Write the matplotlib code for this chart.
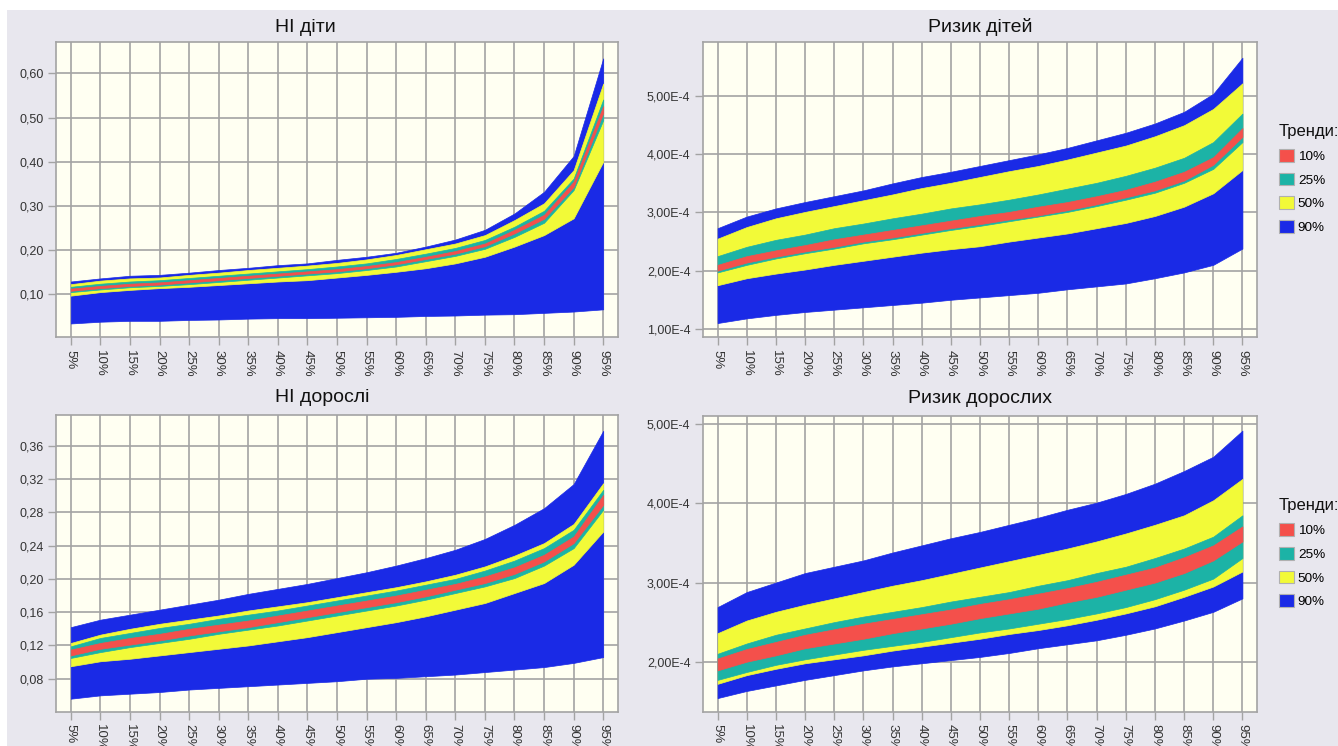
import numpy as np
import matplotlib
matplotlib.use('Agg')
import matplotlib.pyplot as plt
from matplotlib.patches import Patch, Rectangle
from matplotlib.ticker import FuncFormatter

plt.rcParams['font.family'] = ['Liberation Sans', 'DejaVu Sans']

percentiles = ['5%', '10%', '15%', '20%', '25%', '30%', '35%', '40%', '45%', '50%',
               '55%', '60%', '65%', '70%', '75%', '80%', '85%', '90%', '95%']
trend_labels = ['10%', '25%', '50%', '90%']

# ---- НІ діти ----
hc_blue_lo = [0.034, 0.038, 0.040, 0.040, 0.042, 0.043, 0.045, 0.046, 0.046, 0.047,
              0.048, 0.049, 0.051, 0.052, 0.054, 0.055, 0.058, 0.061, 0.066]
hc_yel_lo = [0.097, 0.105, 0.110, 0.114, 0.117, 0.121, 0.125, 0.129, 0.132, 0.138,
             0.144, 0.151, 0.159, 0.170, 0.185, 0.208, 0.234, 0.272, 0.400]
hc_teal_lo = [0.105, 0.111, 0.116, 0.119, 0.123, 0.128, 0.133, 0.138, 0.143, 0.148,
              0.155, 0.163, 0.175, 0.187, 0.203, 0.230, 0.262, 0.336, 0.494]
hc_red_lo = [0.108, 0.114, 0.119, 0.122, 0.127, 0.132, 0.137, 0.142, 0.147, 0.152,
             0.159, 0.168, 0.180, 0.192, 0.209, 0.238, 0.271, 0.343, 0.510]
hc_red_hi = [0.113, 0.119, 0.124, 0.127, 0.132, 0.137, 0.142, 0.147, 0.152, 0.157,
             0.164, 0.173, 0.185, 0.198, 0.215, 0.246, 0.280, 0.355, 0.526]
hc_teal_hi = [0.117, 0.124, 0.129, 0.132, 0.137, 0.142, 0.147, 0.152, 0.157, 0.163,
              0.170, 0.180, 0.192, 0.205, 0.223, 0.253, 0.289, 0.362, 0.541]
hc_yel_hi = [0.123, 0.131, 0.136, 0.138, 0.144, 0.149, 0.155, 0.160, 0.165, 0.171,
             0.179, 0.189, 0.202, 0.215, 0.234, 0.268, 0.306, 0.381, 0.577]
hc_blue_hi = [0.129, 0.136, 0.142, 0.144, 0.149, 0.155, 0.160, 0.166, 0.170, 0.178,
              0.185, 0.194, 0.208, 0.224, 0.246, 0.283, 0.332, 0.413, 0.634]

# ---- Ризик дітей (x 1E-4) ----
rc_blue_lo = [1.10, 1.18, 1.24, 1.29, 1.33, 1.37, 1.41, 1.45, 1.50, 1.54,
              1.58, 1.62, 1.68, 1.73, 1.78, 1.87, 1.97, 2.10, 2.38]
rc_yel_lo = [1.75, 1.87, 1.95, 2.02, 2.10, 2.17, 2.24, 2.31, 2.37, 2.42,
             2.50, 2.57, 2.64, 2.73, 2.82, 2.94, 3.10, 3.33, 3.73]
rc_teal_lo = [1.97, 2.10, 2.21, 2.30, 2.38, 2.47, 2.54, 2.62, 2.70, 2.77,
              2.85, 2.93, 3.01, 3.11, 3.22, 3.34, 3.51, 3.75, 4.21]
rc_red_lo = [2.00, 2.14, 2.24, 2.33, 2.41, 2.50, 2.57, 2.65, 2.73, 2.80,
             2.88, 2.95, 3.04, 3.14, 3.26, 3.38, 3.55, 3.82, 4.30]
rc_red_hi = [2.10, 2.25, 2.35, 2.44, 2.54, 2.62, 2.70, 2.78, 2.86, 2.94,
             3.01, 3.10, 3.18, 3.28, 3.39, 3.53, 3.70, 3.95, 4.45]
rc_teal_hi = [2.25, 2.41, 2.53, 2.62, 2.73, 2.81, 2.90, 2.98, 3.07, 3.14,
              3.22, 3.31, 3.41, 3.51, 3.63, 3.77, 3.94, 4.21, 4.70]
rc_yel_hi = [2.55, 2.75, 2.90, 3.01, 3.11, 3.21, 3.31, 3.42, 3.51, 3.61,
             3.71, 3.80, 3.91, 4.03, 4.15, 4.31, 4.50, 4.78, 5.22]
rc_blue_hi = [2.73, 2.93, 3.07, 3.18, 3.28, 3.38, 3.50, 3.61, 3.70, 3.80,
              3.90, 4.00, 4.11, 4.24, 4.37, 4.53, 4.73, 5.04, 5.66]

# ---- НІ дорослі ----
ha_blue_lo = [0.056, 0.060, 0.062, 0.064, 0.067, 0.069, 0.071, 0.073, 0.075, 0.077,
              0.080, 0.081, 0.083, 0.085, 0.088, 0.091, 0.094, 0.099, 0.106]
ha_yel_lo = [0.095, 0.101, 0.104, 0.108, 0.112, 0.116, 0.120, 0.125, 0.130, 0.136,
             0.142, 0.148, 0.155, 0.163, 0.171, 0.183, 0.195, 0.217, 0.257]
ha_teal_lo = [0.105, 0.112, 0.118, 0.123, 0.128, 0.134, 0.139, 0.144, 0.150, 0.156,
              0.162, 0.168, 0.175, 0.183, 0.191, 0.201, 0.216, 0.237, 0.283]
ha_red_lo = [0.108, 0.116, 0.121, 0.126, 0.132, 0.137, 0.142, 0.148, 0.154, 0.160,
             0.166, 0.172, 0.179, 0.187, 0.195, 0.206, 0.221, 0.243, 0.289]
ha_red_hi = [0.115, 0.123, 0.129, 0.134, 0.140, 0.145, 0.150, 0.156, 0.162, 0.168,
             0.174, 0.180, 0.187, 0.194, 0.203, 0.214, 0.229, 0.251, 0.301]
ha_teal_hi = [0.119, 0.129, 0.135, 0.141, 0.146, 0.152, 0.157, 0.162, 0.168, 0.174,
              0.180, 0.186, 0.193, 0.200, 0.210, 0.222, 0.237, 0.259, 0.307]
ha_yel_hi = [0.123, 0.133, 0.140, 0.146, 0.151, 0.156, 0.162, 0.167, 0.172, 0.178,
             0.184, 0.190, 0.197, 0.205, 0.215, 0.228, 0.243, 0.266, 0.315]
ha_blue_hi = [0.142, 0.151, 0.157, 0.163, 0.169, 0.175, 0.182, 0.188, 0.194, 0.201,
              0.208, 0.216, 0.225, 0.235, 0.248, 0.265, 0.285, 0.314, 0.378]

# ---- Ризик дорослих (x 1E-4) ----
ra_blue_lo = [1.54, 1.63, 1.70, 1.77, 1.83, 1.89, 1.94, 1.98, 2.02, 2.06,
              2.11, 2.17, 2.22, 2.27, 2.34, 2.42, 2.52, 2.63, 2.80]
ra_yel_lo = [1.72, 1.83, 1.91, 1.98, 2.03, 2.08, 2.14, 2.19, 2.24, 2.29,
             2.35, 2.40, 2.46, 2.53, 2.61, 2.70, 2.82, 2.95, 3.14]
ra_teal_lo = [1.77, 1.87, 1.96, 2.03, 2.09, 2.15, 2.20, 2.25, 2.31, 2.37,
              2.42, 2.48, 2.54, 2.61, 2.69, 2.79, 2.91, 3.05, 3.31]
ra_red_lo = [1.89, 2.00, 2.08, 2.17, 2.23, 2.29, 2.36, 2.42, 2.48, 2.55,
             2.61, 2.67, 2.75, 2.82, 2.91, 3.00, 3.12, 3.28, 3.52]
ra_red_hi = [2.04, 2.16, 2.25, 2.34, 2.41, 2.48, 2.54, 2.60, 2.66, 2.73,
             2.79, 2.86, 2.93, 3.01, 3.10, 3.19, 3.32, 3.47, 3.71]
ra_teal_hi = [2.10, 2.23, 2.34, 2.42, 2.50, 2.57, 2.63, 2.69, 2.76, 2.82,
              2.88, 2.96, 3.03, 3.12, 3.20, 3.31, 3.43, 3.58, 3.85]
ra_yel_hi = [2.36, 2.52, 2.63, 2.72, 2.80, 2.88, 2.96, 3.03, 3.11, 3.19,
             3.27, 3.35, 3.43, 3.52, 3.62, 3.73, 3.85, 4.04, 4.31]
ra_blue_hi = [2.69, 2.88, 3.00, 3.12, 3.20, 3.28, 3.38, 3.47, 3.56, 3.64,
              3.73, 3.82, 3.92, 4.01, 4.12, 4.25, 4.41, 4.59, 4.92]

BLUE = '#1a2ae6'
YELLOW = '#f2fa38'
TEAL = '#1cb3a6'
RED = '#f4504b'
GRID = '#a3a3a3'
FIG_BG = '#e8e7ee'
AX_BG = '#fffff2'

W, H = 1338, 746
fig = plt.figure(figsize=(W / 100, H / 100), dpi=100, facecolor='white')
# сірий фон скриншота (тонка біла смуга зверху та зліва)
fig.add_artist(Rectangle((7 / W, 0), 1, 1 - 10 / H, transform=fig.transFigure,
                         facecolor=FIG_BG, edgecolor='none', zorder=-10))


def make_ax(l, t, r, b):
    return fig.add_axes([l / W, (H - b) / H, (r - l) / W, (b - t) / H])


comma2 = FuncFormatter(lambda v, p: f'{v:.2f}'.replace('.', ','))
sci = FuncFormatter(lambda v, p: f'{v:.2f}'.replace('.', ',') + 'E-4')


def draw(ax, bands, ylim, yticks, fmt, legend=False):
    x = np.arange(len(percentiles))
    for (lo, hi), c in zip(bands, [BLUE, YELLOW, TEAL, RED]):
        ax.fill_between(x, lo, hi, facecolor=c, edgecolor=c, lw=0.5, zorder=3)
    ax.set_facecolor(AX_BG)
    ax.set_xlim(-0.5, len(percentiles) - 0.5)
    ax.set_ylim(*ylim)
    ax.set_xticks(x)
    ax.set_xticklabels(percentiles, rotation=-90, fontsize=9.5, color='#333333')
    ax.set_yticks(yticks)
    ax.yaxis.set_major_formatter(fmt)
    ax.tick_params(axis='y', labelsize=9, labelcolor='#333333')
    ax.tick_params(length=6, width=1, color=GRID, direction='out', pad=3)
    ax.grid(True, color=GRID, lw=1.2)
    ax.set_axisbelow(True)
    for s in ax.spines.values():
        s.set_color(GRID)
        s.set_linewidth(1.2)
    if legend:
        handles = [Patch(facecolor=c, edgecolor='#b0b0b0', lw=0.8) for c in [RED, TEAL, YELLOW, BLUE]]
        leg = ax.legend(handles, trend_labels, loc='upper left', bbox_to_anchor=(1.03, 0.74),
                        frameon=False, title='Тренди:', title_fontsize=12, fontsize=9.7,
                        handlelength=1.1, handleheight=1.1, handletextpad=0.3,
                        labelspacing=0.72, alignment='left', borderaxespad=0)
        leg.get_title().set_color('#111111')


def title_at(text, x, y, ha):
    fig.text(x / W, (H - y) / H, text, ha=ha, va='baseline', fontsize=14, color='#111111')


ax1 = make_ax(56, 42, 618, 337)
draw(ax1, [(hc_blue_lo, hc_blue_hi), (hc_yel_lo, hc_yel_hi), (hc_teal_lo, hc_teal_hi), (hc_red_lo, hc_red_hi)],
     (0.0034, 0.671), [0.1, 0.2, 0.3, 0.4, 0.5, 0.6], comma2)
title_at('НІ діти', 275, 32, 'left')

ax2 = make_ax(703, 42, 1257, 337)
draw(ax2, [(rc_blue_lo, rc_blue_hi), (rc_yel_lo, rc_yel_hi), (rc_teal_lo, rc_teal_hi), (rc_red_lo, rc_red_hi)],
     (0.86, 5.93), [1, 2, 3, 4, 5], sci, legend=True)
title_at('Ризик дітей', 980, 32, 'center')

ax3 = make_ax(56, 415, 618, 712)
draw(ax3, [(ha_blue_lo, ha_blue_hi), (ha_yel_lo, ha_yel_hi), (ha_teal_lo, ha_teal_hi), (ha_red_lo, ha_red_hi)],
     (0.040, 0.397), [0.08, 0.12, 0.16, 0.20, 0.24, 0.28, 0.32, 0.36], comma2)
title_at('НІ дорослі', 275, 402, 'left')

ax4 = make_ax(703, 416, 1257, 712)
draw(ax4, [(ra_blue_lo, ra_blue_hi), (ra_yel_lo, ra_yel_hi), (ra_teal_lo, ra_teal_hi), (ra_red_lo, ra_red_hi)],
     (1.364, 5.105), [2, 3, 4, 5], sci, legend=True)
title_at('Ризик дорослих', 980, 403, 'center')

fig.savefig('out.png', dpi=100, facecolor=fig.get_facecolor())
